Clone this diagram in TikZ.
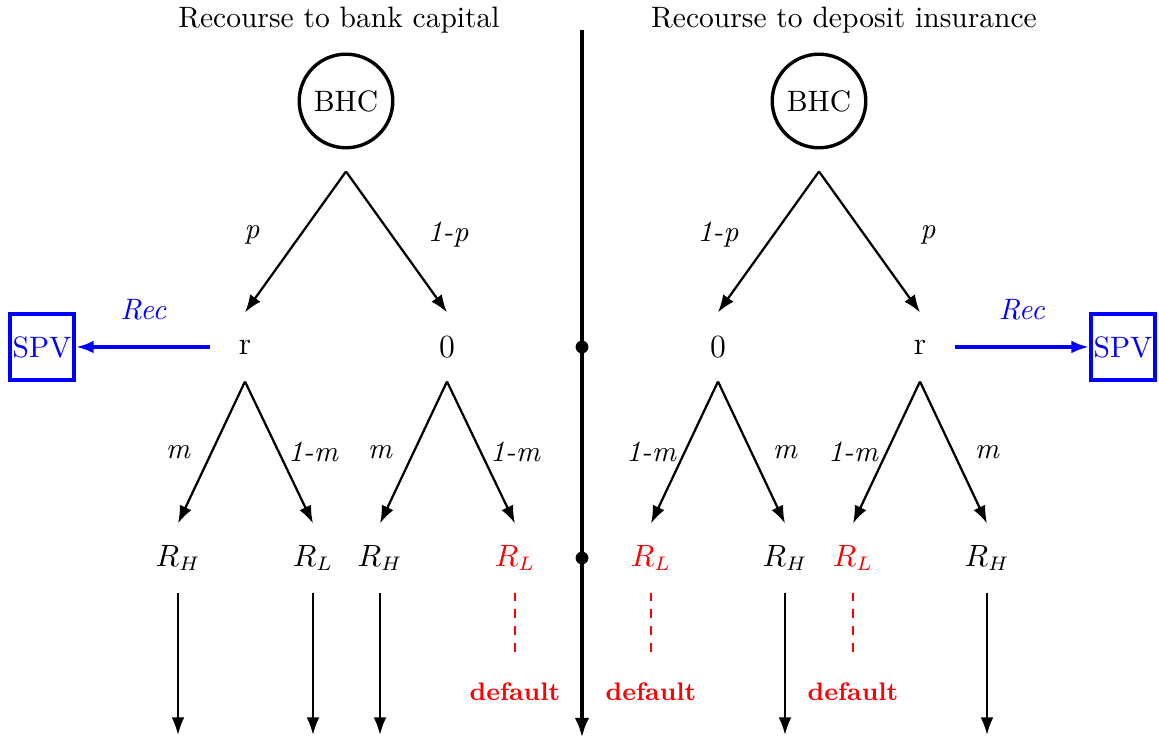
\documentclass[tikz,border=0pt]{standalone}
\usepackage{amsmath}
\usepackage{xcolor}
\usetikzlibrary{arrows.meta,calc,positioning}

\begin{document}
\begin{tikzpicture}[
		every node/.style={font=\fontsize{10.5}{12.6}\selectfont},
		arr/.style={-{Latex[length=2.2mm,width=1.6mm]}, thick},
		lvl/.style={minimum size=0.85cm, inner sep=0pt},
		mid/.style={lvl, font=\fontsize{11.5}{13.8}\selectfont},
		lbl/.style={font=\fontsize{10.5}{12.6}\selectfont\itshape},
		bhc/.style={circle, draw, very thick, minimum size=1.17cm, inner sep=0pt},
		spv/.style={draw=blue, line width=1.4pt, text=blue, minimum width=0.79cm, minimum height=0.83cm, inner sep=1pt},
		dflt/.style={text=red, font=\fontsize{9}{10.8}\selectfont\bfseries}
	]
		\useasboundingbox (0,0) rectangle (14.4875,9.25);
		% titles and dividing line
		\node (ttlL) at (4.2375,9.0) {Recourse to bank capital};
		\node (ttlR) at (10.55,9.0) {Recourse to deposit insurance};
		\coordinate (top) at (7.275,8.875);
		\coordinate (bot) at (7.275,0.025);
		\coordinate (dotA) at (7.275,4.9125);
		\coordinate (dotB) at (7.275,2.275);
		\coordinate (base) at (0,0.0625);
		\coordinate (dend) at (0,1.025);
		\draw[-{Latex[length=2.5mm,width=1.8mm]}, line width=1.5pt] (top)--(bot);
		\fill (dotA) circle (0.08);
		\fill (dotB) circle (0.08);
		% roots
		\node[bhc] (bhcL) at (4.325,7.9875) {BHC};
		\node[bhc] (bhcR) at (10.2375,7.9875) {BHC};
		\coordinate (apL) at ($(bhcL.south)+(0,-0.275)$);
		\coordinate (apR) at ($(bhcR.south)+(0,-0.275)$);
		% first level
		\node[mid] (rL) at (3.0625,4.9125) {r};
		\node[mid] (zL) at (5.5875,4.9125) {0};
		\node[mid] (zR) at (8.975,4.9125) {0};
		\node[mid] (rR) at (11.5,4.9125) {r};
		\draw[arr] (apL)--(rL.north);
		\draw[arr] (apL)--(zL.north);
		\draw[arr] (apR)--(zR.north);
		\draw[arr] (apR)--(rR.north);
		\node[lbl] at (3.15,6.3125) {p};
		\node[lbl] at (5.6,6.3125) {1-p};
		\node[lbl] at (8.975,6.3125) {1-p};
		\node[lbl] at (11.6,6.3125) {p};
		% SPV boxes
		\node[spv] (spvL) at (0.525,4.9125) {SPV};
		\node[spv] (spvR) at (14.0375,4.9125) {SPV};
		\draw[arr, blue, line width=1.1pt] (rL.west)--(spvL.east) node[midway, above=2mm, text=blue, lbl] {Rec};
		\draw[arr, blue, line width=1.1pt] (rR.east)--(spvR.west) node[midway, above=2mm, text=blue, lbl] {Rec};
		% second level
		\node[lvl] (L1) at (2.225,2.275) {$R_H$};
		\node[lvl] (L2) at (3.9125,2.275) {$R_L$};
		\node[lvl] (L3) at (4.75,2.275) {$R_H$};
		\node[lvl, text=red] (L4) at (6.4375,2.275) {$R_L$};
		\node[lvl, text=red] (R1) at (8.1375,2.275) {$R_L$};
		\node[lvl] (R2) at (9.8125,2.275) {$R_H$};
		\node[lvl, text=red] (R3) at (10.6625,2.275) {$R_L$};
		\node[lvl] (R4) at (12.3375,2.275) {$R_H$};
		\draw[arr] (rL.south)--(L1.north);
		\draw[arr] (rL.south)--(L2.north);
		\draw[arr] (zL.south)--(L3.north);
		\draw[arr] (zL.south)--(L4.north);
		\draw[arr] (zR.south)--(R1.north);
		\draw[arr] (zR.south)--(R2.north);
		\draw[arr] (rR.south)--(R3.north);
		\draw[arr] (rR.south)--(R4.north);
		\node[lbl] at (2.225,3.6) {m};
		\node[lbl] at (3.9125,3.6) {1-m};
		\node[lbl] at (4.75,3.6) {m};
		\node[lbl] at (6.4375,3.6) {1-m};
		\node[lbl] at (8.1375,3.6) {1-m};
		\node[lbl] at (9.8125,3.6) {m};
		\node[lbl] at (10.6625,3.6) {1-m};
		\node[lbl] at (12.3375,3.6) {m};
		% outcomes
		\draw[arr] (L1.south)--(L1.south |- base);
		\draw[arr] (L2.south)--(L2.south |- base);
		\draw[arr] (L3.south)--(L3.south |- base);
		\draw[arr] (R2.south)--(R2.south |- base);
		\draw[arr] (R4.south)--(R4.south |- base);
		\draw[red, dashed, thick] (L4.south)--(L4.south |- dend);
		\draw[red, dashed, thick] (R1.south)--(R1.south |- dend);
		\draw[red, dashed, thick] (R3.south)--(R3.south |- dend);
		\node[dflt] (dfL) at (6.4375,0.6) {default};
		\node[dflt] (dfR1) at (8.1375,0.6) {default};
		\node[dflt] (dfR3) at (10.6625,0.6) {default};
	\end{tikzpicture}
\end{document}
